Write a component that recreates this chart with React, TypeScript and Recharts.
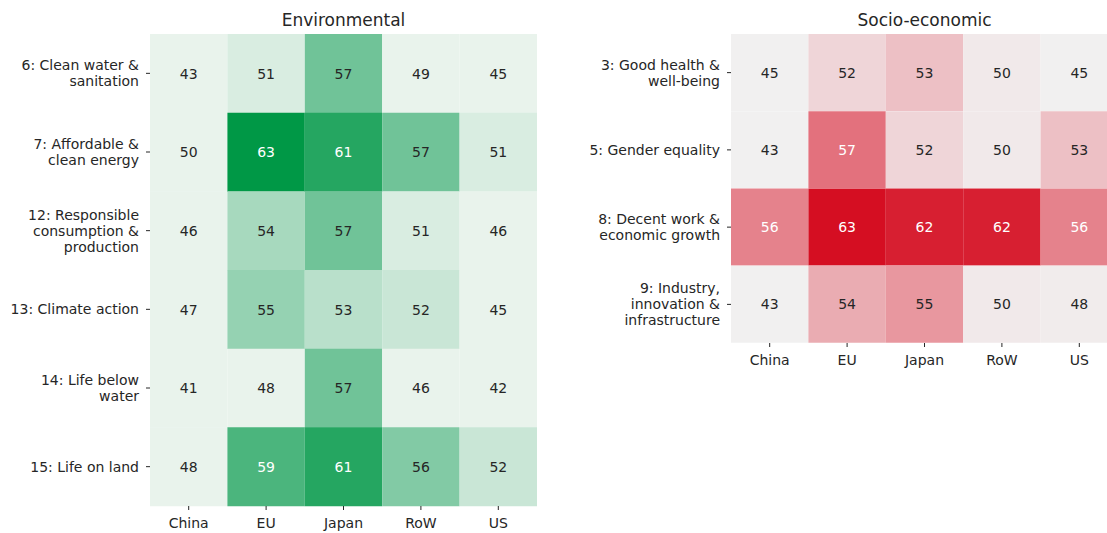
import React from 'react';
import { BarChart, Bar, XAxis, YAxis, Cell, LabelList } from 'recharts';

const countries = ['China', 'EU', 'Japan', 'RoW', 'US'];

const envGoals = [
  '6: Clean water &\nsanitation',
  '7: Affordable &\nclean energy',
  '12: Responsible\nconsumption &\nproduction',
  '13: Climate action',
  '14: Life below\nwater',
  '15: Life on land',
];
const envChina = [43, 50, 46, 47, 41, 48];
const envEU = [51, 63, 54, 55, 48, 59];
const envJapan = [57, 61, 57, 53, 57, 61];
const envRoW = [49, 57, 51, 52, 46, 56];
const envUS = [45, 51, 46, 45, 42, 52];

const socGoals = [
  '3: Good health &\nwell-being',
  '5: Gender equality',
  '8: Decent work &\neconomic growth',
  '9: Industry,\ninnovation &\ninfrastructure',
];
const socChina = [45, 43, 56, 43];
const socEU = [52, 57, 63, 54];
const socJapan = [53, 52, 62, 55];
const socRoW = [50, 50, 62, 50];
const socUS = [45, 53, 56, 48];

const FONT = '"DejaVu Sans", Verdana, sans-serif';
const TEXT = '#262626';

type Stop = [number, [number, number, number]];
const greenStops: Stop[] = [
  [50, [233, 243, 236]],
  [53, [185, 224, 203]],
  [57, [112, 195, 152]],
  [63, [0, 152, 70]],
];
const redStops: Stop[] = [
  [45, [241, 240, 240]],
  [50, [241, 233, 234]],
  [52, [239, 213, 216]],
  [56, [229, 130, 140]],
  [63, [213, 14, 34]],
];

function interp(stops: Stop[], v: number): [number, number, number] {
  if (v <= stops[0][0]) return stops[0][1];
  for (let i = 1; i < stops.length; i++) {
    if (v <= stops[i][0]) {
      const [a, ca] = stops[i - 1];
      const [b, cb] = stops[i];
      const t = (v - a) / (b - a);
      return [0, 1, 2].map((k) => Math.round(ca[k] + (cb[k] - ca[k]) * t)) as [number, number, number];
    }
  }
  return stops[stops.length - 1][1];
}
const rgb = (c: [number, number, number]) => `rgb(${c[0]},${c[1]},${c[2]})`;
const lum = (c: [number, number, number]) => 0.2126 * c[0] + 0.7152 * c[1] + 0.0722 * c[2];

function buildRows(goals: string[], cols: number[][]) {
  return goals.map((g, r) => {
    const row: any = { goal: g };
    cols.forEach((col, i) => {
      row[`v${i}`] = col[r];
      row[`u${i}`] = 1;
    });
    return row;
  });
}

const envRows = buildRows(envGoals, [envChina, envEU, envJapan, envRoW, envUS]);
const socRows = buildRows(socGoals, [socChina, socEU, socJapan, socRoW, socUS]);

const GoalTick = (props: any) => {
  const { x, y, payload } = props;
  const lines = String(payload.value).split('\n');
  const lh = 16;
  const y0 = y - ((lines.length - 1) * lh) / 2;
  return (
    <text x={x} y={y0} textAnchor="end" fontSize={14} fill={TEXT} fontFamily={FONT} dominantBaseline="central">
      {lines.map((l, i) => (
        <tspan key={i} x={x} y={y0 + i * lh}>
          {l}
        </tspan>
      ))}
    </text>
  );
};

function makeLabel(stops: Stop[]) {
  return (props: any) => {
    const { x, y, width, height, value } = props;
    const c = interp(stops, Number(value));
    return (
      <text
        x={Number(x) + Number(width) / 2}
        y={Number(y) + Number(height) / 2}
        textAnchor="middle"
        dominantBaseline="central"
        fontSize={14}
        fontFamily={FONT}
        fill={lum(c) < 160 ? '#ffffff' : TEXT}
      >
        {value}
      </text>
    );
  };
}

const colTicks = [0.5, 1.5, 2.5, 3.5, 4.5];

function Heatmap(props: {
  rows: any[];
  stops: Stop[];
  width: number;
  height: number;
  yWidth: number;
  xHeight: number;
  right: number;
}) {
  const { rows, stops, width, height, yWidth, xHeight, right } = props;
  const label = makeLabel(stops);
  return (
    <BarChart
      width={width}
      height={height}
      data={rows}
      layout="vertical"
      margin={{ top: 34, right, bottom: 0, left: 0 }}
      barCategoryGap={0}
      barGap={0}
    >
      <XAxis
        type="number"
        domain={[0, 5]}
        ticks={colTicks}
        tickFormatter={(v: number) => countries[Math.floor(v)]}
        axisLine={false}
        tickSize={4}
        tickMargin={8}
        height={xHeight}
        interval={0}
        tickLine={{ stroke: TEXT }}
        tick={{ fontSize: 14, fill: TEXT, fontFamily: FONT }}
      />
      <YAxis
        type="category"
        dataKey="goal"
        width={yWidth}
        axisLine={false}
        tickSize={4}
        tickMargin={7}
        interval={0}
        tickLine={{ stroke: TEXT }}
        tick={<GoalTick />}
      />
      {countries.map((c, i) => (
        <Bar key={c} dataKey={`u${i}`} stackId="s" isAnimationActive={false}>
          {rows.map((r, j) => (
            <Cell key={j} fill={rgb(interp(stops, r[`v${i}`]))} stroke="none" />
          ))}
          <LabelList dataKey={`v${i}`} content={label} />
        </Bar>
      ))}
    </BarChart>
  );
}

const titleStyle: React.CSSProperties = {
  position: 'absolute',
  top: 8,
  height: 24,
  lineHeight: '24px',
  fontSize: 17,
  fontFamily: FONT,
  color: TEXT,
  textAlign: 'center',
};

export default function App() {
  return (
    <div
      style={{
        position: 'absolute',
        left: 0,
        top: 0,
        width: 1107,
        height: 533,
        overflow: 'hidden',
        background: '#ffffff',
        fontFamily: FONT,
      }}
    >
      <div style={{ position: 'absolute', left: 0, top: 0 }}>
        <Heatmap rows={envRows} stops={greenStops} width={560} height={533} yWidth={150} xHeight={27} right={23} />
      </div>
      <div style={{ position: 'absolute', left: 560, top: 0 }}>
        <Heatmap rows={socRows} stops={redStops} width={560} height={380} yWidth={171} xHeight={37} right={2} />
      </div>
      <div style={{ ...titleStyle, left: 150, width: 387 }}>Environmental</div>
      <div style={{ ...titleStyle, left: 731, width: 387 }}>Socio-economic</div>
    </div>
  );
}
